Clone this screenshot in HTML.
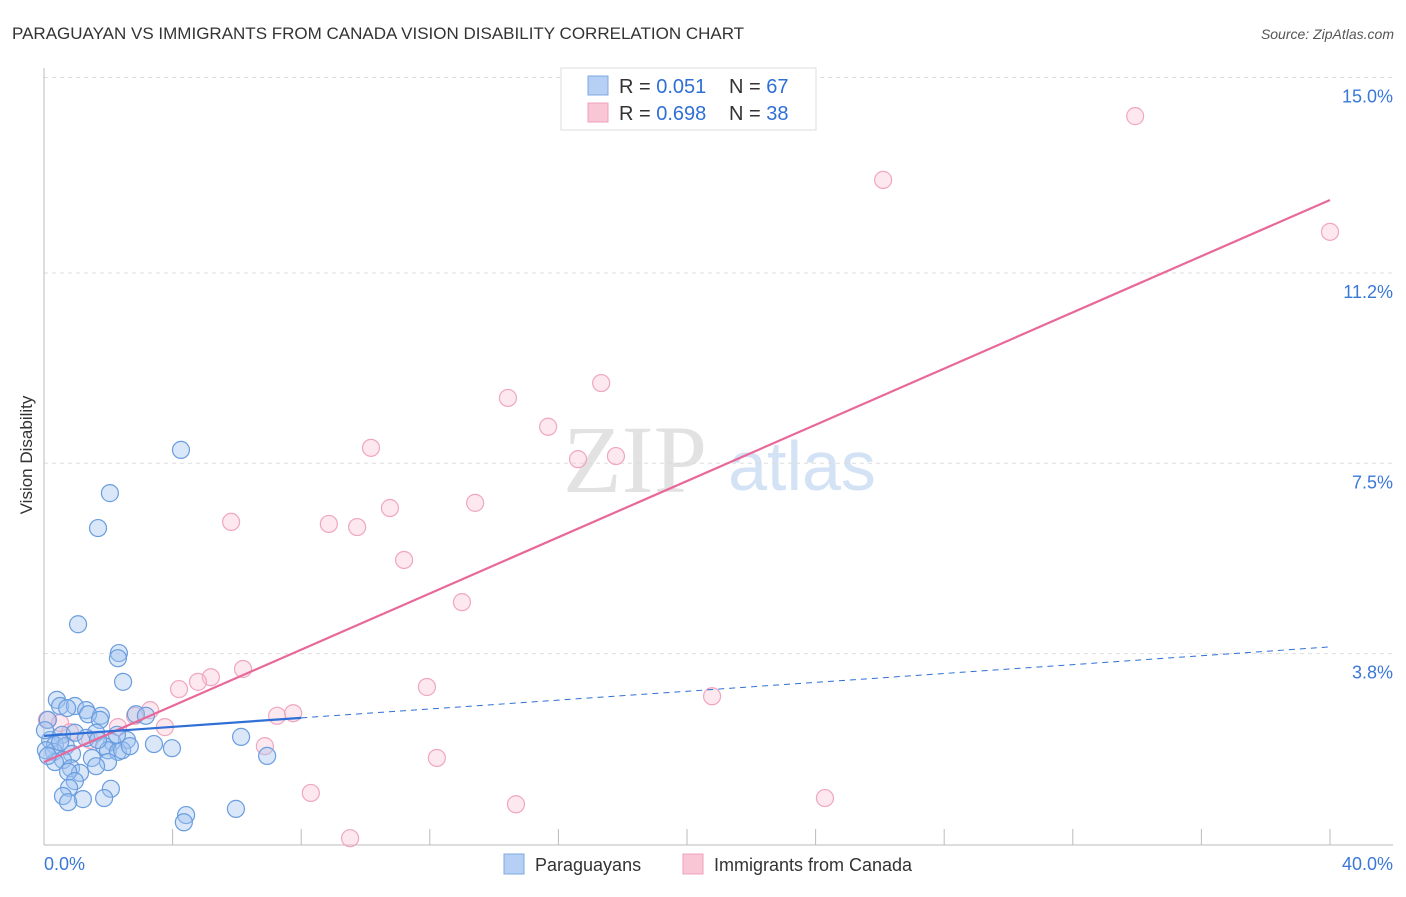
<!DOCTYPE html>
<html><head><meta charset="utf-8"><style>
body{margin:0;background:#fff;font-family:"Liberation Sans",sans-serif}
</style></head><body>
<svg width="1406" height="892" xmlns="http://www.w3.org/2000/svg" font-family="Liberation Sans, sans-serif">
<text x="12" y="39" font-size="17" fill="#333">PARAGUAYAN VS IMMIGRANTS FROM CANADA VISION DISABILITY CORRELATION CHART</text>
<text x="1394" y="39" font-size="14" fill="#555" font-style="italic" text-anchor="end">Source: ZipAtlas.com</text>
<text x="32" y="455" font-size="17" fill="#333" transform="rotate(-90 32 455)" text-anchor="middle">Vision Disability</text>
<text x="635" y="492" font-size="96" fill="#e2e2e2" font-family="Liberation Serif, serif" text-anchor="middle">ZIP</text>
<text x="802" y="490" font-size="70" fill="#d3e2f5" text-anchor="middle">atlas</text>
<g id="grid"></g><g id="axes"></g><g id="pts"></g><g id="lines"></g>
<g>
<rect x="561" y="68" width="255" height="62" fill="#fff" stroke="#ddd"/>
<rect x="588" y="76" width="20" height="19" fill="#b6d0f5" stroke="#7fa8e0"/>
<rect x="588" y="103" width="20" height="19" fill="#f9c6d6" stroke="#eea0ba"/>
<text x="619" y="93" font-size="20" fill="#333">R = <tspan fill="#2f6fd6">0.051</tspan><tspan x="729">N = </tspan><tspan fill="#2f6fd6">67</tspan></text>
<text x="619" y="120" font-size="20" fill="#333">R = <tspan fill="#2f6fd6">0.698</tspan><tspan x="729">N = </tspan><tspan fill="#2f6fd6">38</tspan></text>
</g>
<g>
<rect x="504" y="854" width="20" height="20" fill="#b6d0f5" stroke="#7fa8e0"/>
<text x="535" y="871" font-size="18" fill="#333">Paraguayans</text>
<rect x="683" y="854" width="20" height="20" fill="#f9c6d6" stroke="#eea0ba"/>
<text x="714" y="871" font-size="18" fill="#333">Immigrants from Canada</text>
</g>
</svg>
<script>
const blueX=[4.26,2.05,1.68,1.06,2.33,2.30,2.46,0.40,0.50,0.96,0.72,1.31,1.77,1.37,2.86,3.17,0.12,1.74,0.56,0.96,1.62,2.58,2.12,3.42,3.98,6.13,6.94,0.19,0.34,0.68,1.87,1.99,2.30,2.43,0.31,0.87,1.49,0.59,0.34,1.99,0.84,1.62,1.12,0.75,0.96,0.78,2.08,0.59,1.21,0.75,1.87,4.42,4.35,5.97,0.06,1.31,0.50,0.03,2.27,1.68,2.67,0.12];
const blueY=[7.76,6.92,6.24,4.37,3.81,3.71,3.25,2.90,2.78,2.78,2.74,2.70,2.59,2.62,2.62,2.59,2.51,2.51,2.22,2.26,2.26,2.12,2.08,2.04,1.96,2.18,1.81,2.12,2.02,2.0,2.0,1.92,1.89,1.92,1.89,1.85,1.77,1.73,1.69,1.69,1.57,1.61,1.48,1.50,1.32,1.19,1.17,1.03,0.97,0.91,0.99,0.66,0.52,0.78,1.92,2.16,2.08,2.31,2.22,2.12,2.0,1.81];
const pinkX=[33.94,26.10,40.0,17.33,14.43,15.68,10.17,16.61,17.79,13.41,10.76,5.82,8.86,9.74,11.20,13.0,6.19,5.19,4.79,4.20,11.91,20.78,3.30,2.83,7.25,7.75,2.30,3.76,0.09,0.50,6.87,12.22,8.30,14.68,24.29,9.52,1.43,0.81];
const pinkY=[14.25,13.01,12.0,9.06,8.77,8.21,7.80,7.58,7.64,6.73,6.63,6.36,6.32,6.26,5.62,4.80,3.50,3.34,3.25,3.11,3.15,2.97,2.70,2.59,2.59,2.64,2.37,2.37,2.51,2.45,2.0,1.77,1.09,0.87,0.99,0.21,2.12,2.27];
const pinkTrendX=[0,40];const pinkTrendY=[1.69,12.62];
const blueTrendX=[0,8,40];const blueTrendY=[2.2,2.55,3.93];
const yTicks=[3.8,7.5,11.2,15.0];const yTickLabels=["3.8%","7.5%","11.2%","15.0%"];
const xTicks=[0,4,8,12,16,20,24,28,32,36,40];
const NS="http://www.w3.org/2000/svg";
const sx=v=>44+v*32.15, sy=v=>849-v*51.43;
function mk(t,a,p){const e=document.createElementNS(NS,t);for(const k in a)e.setAttribute(k,a[k]);p.appendChild(e);return e;}
const grid=document.getElementById('grid'),axes=document.getElementById('axes'),pts=document.getElementById('pts'),lines=document.getElementById('lines');
yTicks.forEach((v,i)=>{
 const l=mk('line',{x1:44,x2:1393,y1:sy(v),y2:sy(v),stroke:'#ddd','stroke-dasharray':'4,4'},grid);
 
 
 const t=mk('text',{x:1393,y:sy(v)+25,'font-size':18,fill:'#3a78d8','text-anchor':'end'},grid);
 t.textContent=yTickLabels[i];
 
 
});
let a=mk('line',{x1:44,x2:44,y1:68,y2:845,stroke:'#bbb'},axes);


a=mk('line',{x1:44,x2:1393,y1:845,y2:845,stroke:'#bbb'},axes);


xTicks.forEach(v=>{const t=mk('line',{x1:sx(v),x2:sx(v),y1:829,y2:845,stroke:'#bbb'},axes);
 
 });
let t=mk('text',{x:44,y:870,'font-size':18,fill:'#3a78d8'},axes);t.textContent='0.0%';


t=mk('text',{x:1393,y:870,'font-size':18,fill:'#3a78d8','text-anchor':'end'},axes);t.textContent='40.0%';


pinkX.forEach((x,i)=>{const c=mk('circle',{cx:sx(x),cy:sy(pinkY[i]),r:8.5,fill:'rgba(248,190,210,0.35)',stroke:'#f0a6be','stroke-width':1.2},pts);
 
 });
blueX.forEach((x,i)=>{const c=mk('circle',{cx:sx(x),cy:sy(blueY[i]),r:8.5,fill:'rgba(160,196,240,0.4)',stroke:'#6a9ddf','stroke-width':1.2},pts);
 
 });
let L=mk('line',{x1:sx(pinkTrendX[0]),y1:sy(pinkTrendY[0]),x2:sx(pinkTrendX[1]),y2:sy(pinkTrendY[1]),stroke:'#e8689a','stroke-width':2.2},lines);


L=mk('line',{x1:sx(blueTrendX[0]),y1:sy(blueTrendY[0]),x2:sx(blueTrendX[1]),y2:sy(blueTrendY[1]),stroke:'#2f6fd6','stroke-width':2.2},lines);


L=mk('line',{x1:sx(blueTrendX[1]),y1:sy(blueTrendY[1]),x2:sx(blueTrendX[2]),y2:sy(blueTrendY[2]),stroke:'#2f6fd6','stroke-width':1,'stroke-dasharray':'6,5'},lines);


</script>
</body></html>
